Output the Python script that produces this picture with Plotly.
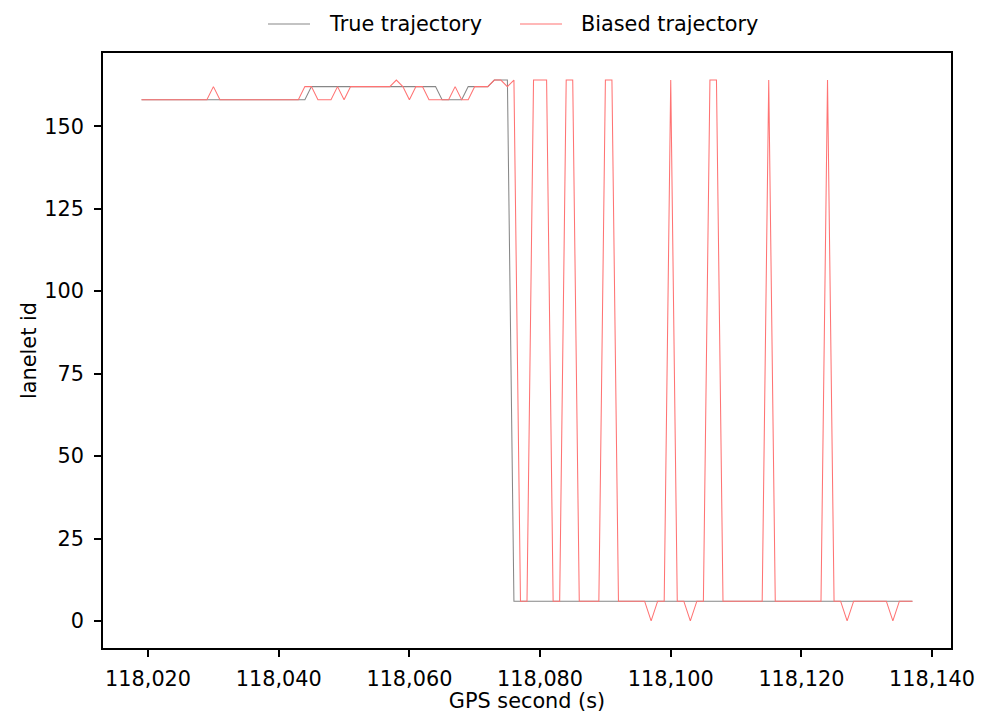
import plotly.graph_objects as go

# GPS seconds (1 s sampling)
gps_seconds = [
    118019, 118020, 118021, 118022, 118023, 118024, 118025, 118026, 118027, 118028,
    118029, 118030, 118031, 118032, 118033, 118034, 118035, 118036, 118037, 118038,
    118039, 118040, 118041, 118042, 118043, 118044, 118045, 118046, 118047, 118048,
    118049, 118050, 118051, 118052, 118053, 118054, 118055, 118056, 118057, 118058,
    118059, 118060, 118061, 118062, 118063, 118064, 118065, 118066, 118067, 118068,
    118069, 118070, 118071, 118072, 118073, 118074, 118075, 118076, 118077, 118078,
    118079, 118080, 118081, 118082, 118083, 118084, 118085, 118086, 118087, 118088,
    118089, 118090, 118091, 118092, 118093, 118094, 118095, 118096, 118097, 118098,
    118099, 118100, 118101, 118102, 118103, 118104, 118105, 118106, 118107, 118108,
    118109, 118110, 118111, 118112, 118113, 118114, 118115, 118116, 118117, 118118,
    118119, 118120, 118121, 118122, 118123, 118124, 118125, 118126, 118127, 118128,
    118129, 118130, 118131, 118132, 118133, 118134, 118135, 118136, 118137,
]

true_lanelet = [
    158, 158, 158, 158, 158, 158, 158, 158, 158, 158,
    158, 158, 158, 158, 158, 158, 158, 158, 158, 158,
    158, 158, 158, 158, 158, 158, 162, 162, 162, 162,
    162, 162, 162, 162, 162, 162, 162, 162, 162, 162,
    162, 162, 162, 162, 162, 162, 158, 158, 158, 158,
    162, 162, 162, 162, 164, 164, 164, 6, 6, 6,
    6, 6, 6, 6, 6, 6, 6, 6, 6, 6,
    6, 6, 6, 6, 6, 6, 6, 6, 6, 6,
    6, 6, 6, 6, 6, 6, 6, 6, 6, 6,
    6, 6, 6, 6, 6, 6, 6, 6, 6, 6,
    6, 6, 6, 6, 6, 6, 6, 6, 6, 6,
    6, 6, 6, 6, 6, 6, 6, 6, 6,
]

biased_lanelet = [
    158, 158, 158, 158, 158, 158, 158, 158, 158, 158,
    158, 162, 158, 158, 158, 158, 158, 158, 158, 158,
    158, 158, 158, 158, 158, 162, 162, 158, 158, 158,
    162, 158, 162, 162, 162, 162, 162, 162, 162, 164,
    162, 158, 162, 162, 158, 158, 158, 158, 162, 158,
    158, 162, 162, 162, 164, 164, 162, 164, 6, 6,
    164, 164, 164, 6, 6, 164, 164, 6, 6, 6,
    6, 164, 164, 6, 6, 6, 6, 6, 0, 6,
    6, 164, 6, 6, 0, 6, 6, 164, 164, 6,
    6, 6, 6, 6, 6, 6, 164, 6, 6, 6,
    6, 6, 6, 6, 6, 164, 6, 6, 0, 6,
    6, 6, 6, 6, 6, 0, 6, 6, 6,
]

series_names = ["True trajectory", "Biased trajectory"]
x_ticks = [118020, 118040, 118060, 118080, 118100, 118120, 118140]
y_ticks = [0, 25, 50, 75, 100, 125, 150]

FONT = "DejaVu Sans"
FS = 20.8
GRAY = "rgb(135,135,135)"
RED = "rgb(255,115,115)"

W, H = 987, 713
ML, MR, MT, MB = 103, 36, 53, 65
PW, PH = W - ML - MR, H - MT - MB


def px_x(p):
    return (p - ML) / PW


def px_y(p):
    return 1 + (MT - p) / PH


fig = go.Figure()
fig.add_trace(go.Scatter(
    x=gps_seconds, y=true_lanelet, mode="lines", name=series_names[0],
    line=dict(color=GRAY, width=1.05), showlegend=False,
))
fig.add_trace(go.Scatter(
    x=gps_seconds, y=biased_lanelet, mode="lines", name=series_names[1],
    line=dict(color=RED, width=1.05), showlegend=False,
))

# legend (matplotlib-like: long handles, wide padding)
leg_y = px_y(24)
legend_items = [(268, 310, 327, GRAY, series_names[0]),
                (520, 562, 579, RED, series_names[1])]
for x0, x1, xt, col, label in legend_items:
    fig.add_shape(type="line", xref="paper", yref="paper",
                  x0=px_x(x0), x1=px_x(x1), y0=leg_y, y1=leg_y,
                  line=dict(color=col, width=1.05))
    fig.add_annotation(xref="paper", yref="paper", x=px_x(xt), y=leg_y,
                       text=label, showarrow=False, xanchor="left",
                       yanchor="middle",
                       font=dict(family=FONT, size=FS, color="black"))

axis_common = dict(
    showgrid=False, zeroline=False, showline=True, mirror=True,
    linecolor="black", linewidth=1.67, ticks="outside", ticklen=7,
    tickwidth=1.67, tickcolor="black",
    tickfont=dict(family=FONT, size=FS, color="black"),
)

fig.update_layout(
    width=W, height=H,
    margin=dict(l=ML, r=MR, t=MT, b=MB, autoexpand=False),
    paper_bgcolor="white", plot_bgcolor="white",
    font=dict(family=FONT, size=FS, color="black"),
    showlegend=False,
    xaxis=dict(
        axis_common,
        range=[118013.1, 118142.9], tickvals=x_ticks, tickformat=",d",
        ticklabelstandoff=4,
        title=dict(text="GPS second (s)", font=dict(family=FONT, size=FS), standoff=2),
    ),
    yaxis=dict(
        axis_common,
        range=[-8.2, 172.2], tickvals=y_ticks,
        ticklabelstandoff=6,
        title=dict(text="lanelet id", font=dict(family=FONT, size=FS), standoff=2),
    ),
)

fig.write_html("out.html")
